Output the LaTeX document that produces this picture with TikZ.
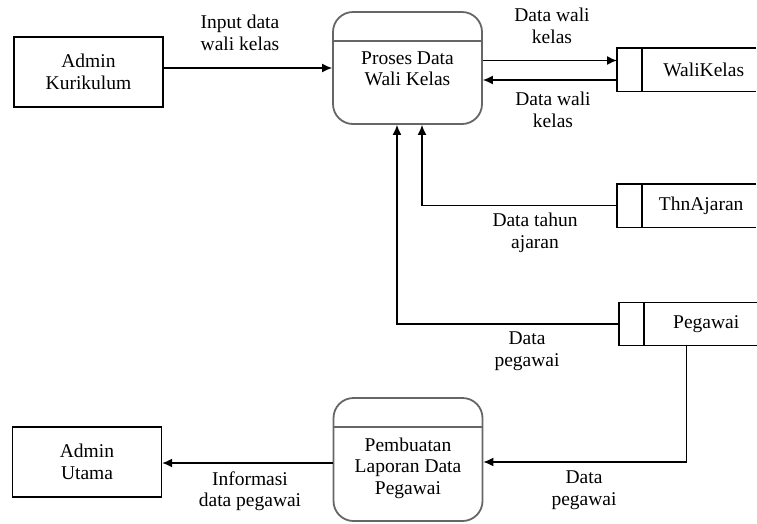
\documentclass[tikz,border=0pt]{standalone}
\usepackage{fontspec}
\setmainfont{Liberation Serif}
\newfontfamily\tulisan{Liberation Serif}
\usetikzlibrary{arrows.meta}
\begin{document}
\begin{tikzpicture}[x=1pt, y=-1pt, >={Latex[length=10pt,width=9pt]},
    font=\tulisan\fontsize{19.5}{21.5}\selectfont,
    entitas/.style = {draw, line width=1.4pt, minimum width=149pt, minimum height=70pt, align=center, inner sep=0pt},
    proses/.style = {draw=black!60, line width=1.8pt, rounded corners=20pt, minimum width=149pt, inner sep=0pt},
    simpan/.style = {minimum width=139pt, minimum height=43pt, anchor=west, inner sep=0pt},
    alur/.style = {->, line width=1.4pt},
    ket/.style = {align=center, inner sep=0pt}]
        \useasboundingbox (0,0) rectangle (757,523);
        \node[entitas] (adm) at (88.5,72) {Admin\\Kurikulum};
        \node[entitas] (utama) at (87,462) {Admin\\Utama};
        \node[proses, minimum height=112pt] (p1) at (407.5,68) {};
        \node[ket] (p1t) at (407.5,69) {Proses Data\\Wali Kelas};
        \node[proses, minimum height=123pt] (p2) at (408,459.5) {};
        \node[ket] (p2t) at (408,468) {Pembuatan\\Laporan Data\\Pegawai};
        \draw[black!60, line width=1.5pt] ([yshift=-30pt]p1.north west) -- ([yshift=-30pt]p1.north east);
        \draw[black!60, line width=1.5pt] ([yshift=-30pt]p2.north west) -- ([yshift=-30pt]p2.north east);
        %
        \node[simpan] (wk) at (617,69.5) {\hspace*{34pt}WaliKelas};
        \node[simpan] (thn) at (617,205.5) {\hspace*{29pt}ThnAjaran};
        \node[simpan, minimum width=138pt] (peg) at (619,324) {\hspace*{36pt}Pegawai};
        \foreach \s in {wk,thn,peg} {
          \draw[line width=1.4pt] (\s.north east) -- (\s.north west) -- (\s.south west) -- (\s.south east);
          \draw[line width=1.4pt] ([xshift=25pt]\s.north west) -- ([xshift=25pt]\s.south west);
        }
        %
        \draw[alur] (adm.east |- p1.west) -- (p1.west);
        \draw[alur] ([yshift=7.5pt]p1.east) -- ([yshift=7.5pt]p1.east -| wk.west);
        \draw[alur] ([yshift=-10.5pt]wk.west) -- ([yshift=-10.5pt]wk.west -| p1.east);
        \draw[alur] (thn.west) -| ([xshift=14.5pt]p1.south);
        \draw[alur] (peg.west) -| ([xshift=-10.5pt]p1.south);
        \draw[alur] ([xshift=-2pt]peg.south) |- ([yshift=-2.5pt]p2.east);
        \draw[alur] ([yshift=-3.5pt]p2.west) -- ([yshift=-3.5pt]p2.west -| utama.east);
        %
        \node[ket] (l1) at (240,33) {Input data\\wali kelas};
        \node[ket] (l2) at (552,26) {Data wali\\kelas};
        \node[ket] (l3) at (553,110) {Data wali\\kelas};
        \node[ket] (l4) at (535,233) {Data tahun\\ajaran};
        \node[ket] (l5) at (527,351) {Data\\pegawai};
        \node[ket] (l6) at (584,490) {Data\\pegawai};
        \node[ket] (l7) at (250,491) {Informasi\\data pegawai};
      \end{tikzpicture}
\end{document}
